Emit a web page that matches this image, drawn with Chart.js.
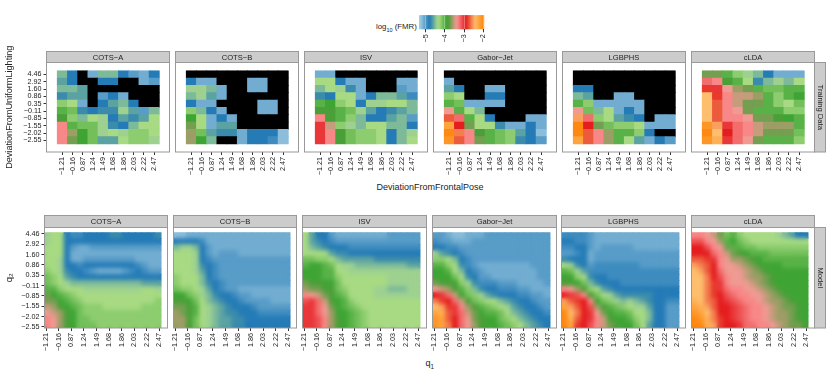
<!DOCTYPE html>
<html>
<head>
<meta charset="utf-8">
<script src="https://cdn.jsdelivr.net/npm/chart.js@4"></script>
<style>
body { margin: 0; background: #fff; font-family: "Liberation Sans", sans-serif; color: #222; }
canvas { position: absolute; }
.lbl { position: absolute; white-space: nowrap; }
sub { font-size: 70%; }
</style>
</head>
<body>
<div class="lbl" style="left:376px;top:22px;font-size:7.8px;">log<sub>10</sub> (FMR)</div>
<div class="lbl" style="left:376.5px;top:182px;font-size:9px;">DeviationFromFrontalPose</div>
<div class="lbl" style="left:425.5px;top:357.5px;font-size:9px;">q<sub>1</sub></div>
<script>
// all values are -10 * log10(FMR), so 43 means log10(FMR) = -4.3. N = no false matches (black)
var N = null;

var names = ["COTS\u2212A", "COTS\u2212B", "ISV", "Gabor\u2212Jet", "LGBPHS", "cLDA"];
var xLabels = ["\u22121.21", "\u22120.16", "0.87", "1.24", "1.49", "1.68", "1.86", "2.03", "2.22", "2.47"];
var yLabels = ["\u22122.55", "\u22122.02", "\u22121.55", "\u22120.85", "\u22120.11", "0.35", "0.86", "1.60", "2.92", "4.46"];
var legendTicks = [-5, -4, -3, -2];
var legendLabels = ["\u22125", "\u22124", "\u22123", "\u22122"];
var legendValues = [53,52,51,50,49,48,47,46,45,44,43,42,41,40,39,38,37,36,35,34,33,32,31,30,29,28,27,26,25,24,23,22,21,20];

// Training data, rows from 4.46 down to -2.55
var dataCotsA = [
[45,48,N,51,45,45,48,50,51,48],
[46,48,N,N,48,48,N,N,51,50],
[45,45,46,N,N,N,N,N,N,N],
[47,46,46,N,50,48,51,N,N,N],
[42,43,51,N,48,46,45,48,N,N],
[40,41,47,48,47,47,44,46,50,45],
[38,42,45,43,44,48,46,47,46,43],
[33,40,41,41,44,47,48,45,43,43],
[33,36,39,41,44,43,44,42,42,43],
[33,37,39,41,46,46,43,42,42,44]];
var dataCotsB = [
[N,N,N,N,N,N,N,N,N,N],
[48,51,51,N,N,N,51,51,N,N],
[44,44,45,51,N,N,51,51,N,N],
[45,44,46,51,N,N,N,N,N,N],
[48,51,51,N,N,N,N,51,51,N],
[42,45,48,51,N,N,N,51,51,N],
[39,43,51,48,51,N,N,N,N,N],
[37,43,51,46,46,N,N,N,N,N],
[36,41,46,47,47,51,48,48,48,52],
[36,39,45,N,N,51,48,48,49,52]];
var dataIsv = [
[51,51,N,N,N,N,N,N,N,N],
[43,43,48,51,51,N,N,N,51,51],
[45,43,44,47,51,N,N,N,50,51],
[47,48,43,43,51,48,45,45,46,49],
[40,39,42,43,48,44,44,43,43,45],
[38,38,40,41,44,46,48,47,46,45],
[33,38,40,42,45,48,48,46,45,50],
[30,35,42,44,45,43,43,45,45,48],
[30,33,38,41,42,42,43,48,45,44],
[30,33,38,41,42,42,43,48,45,43]];
var dataGabor = [
[N,N,N,N,N,N,N,N,N,N],
[51,N,N,N,N,N,N,N,N,N],
[46,48,N,N,51,51,N,N,N,N],
[42,43,N,N,48,48,N,N,N,N],
[40,41,51,51,51,51,N,N,N,N],
[34,40,43,45,N,N,N,N,N,N],
[27,32,40,43,48,N,N,N,51,51],
[22,29,37,43,43,47,51,51,48,51],
[20,26,33,38,40,41,42,46,48,52],
[21,27,33,37,40,41,42,47,48,50]];
var dataLgbphs = [
[N,N,N,N,N,N,N,N,N,N],
[N,N,N,N,N,N,N,N,N,N],
[48,48,N,N,N,N,N,N,N,N],
[45,46,N,N,51,51,N,N,N,N],
[40,42,51,51,51,51,51,N,N,N],
[34,41,45,43,51,48,51,N,N,N],
[25,32,42,43,46,47,48,N,51,51],
[20,29,37,41,42,42,43,51,51,51],
[20,27,33,36,40,40,42,48,N,N],
[22,27,33,36,40,43,46,51,48,50]];
var dataClda = [
[37,37,40,42,44,45,48,51,51,51],
[32,33,38,40,43,47,45,44,45,43],
[28,30,34,36,37,40,41,41,40,40],
[24,28,33,35,35,36,40,42,40,39],
[24,27,33,35,37,37,40,42,43,41],
[24,27,33,34,37,40,40,40,42,42],
[24,27,33,33,34,37,37,38,39,40],
[21,25,30,32,33,35,36,36,36,40],
[20,24,29,32,33,35,37,37,37,41],
[21,23,30,32,34,37,40,40,40,42]];

// Model surfaces read on an 18 x 16 grid, rows top down
var modelCotsA = [
[44,43,43,48,49,49,48,48,48,48,47,47,48,48,48,48,48,47],
[44,43,43,48,48,48,48,48,48,48,48,48,48,48,48,48,48,48],
[43,43,43,48,50,51,51,50,50,50,50,50,50,50,50,50,50,50],
[43,43,43,48,51,51,51,51,51,51,51,51,51,51,51,51,51,51],
[43,43,44,48,51,51,50,50,50,50,50,50,50,50,51,51,51,51],
[43,43,44,48,48,49,48,48,48,48,48,48,48,48,49,50,51,51],
[42,43,44,47,48,48,49,50,51,51,51,51,50,49,48,49,50,50],
[41,42,43,46,47,48,48,48,48,48,48,48,48,48,48,48,48,48],
[41,42,43,44,45,45,45,45,45,45,45,45,45,45,45,46,46,46],
[40,40,42,43,43,43,44,44,44,44,44,44,44,44,44,43,43,44],
[37,39,40,41,42,43,43,43,43,43,43,43,43,43,43,43,43,43],
[37,37,39,40,41,42,43,43,43,43,43,43,43,43,43,43,43,42],
[35,36,38,39,40,41,42,42,42,43,43,43,43,43,43,42,42,42],
[34,35,36,38,39,41,42,42,42,42,42,42,42,42,42,42,42,42],
[33,34,36,38,39,41,41,42,42,42,42,42,42,42,42,42,42,42],
[33,34,36,38,39,41,41,41,42,42,42,42,42,42,42,42,42,42]];
var modelCotsB = [
[52,52,51,51,51,51,51,51,51,51,51,51,51,51,51,51,51,51],
[48,48,48,48,49,51,51,51,51,51,51,51,51,51,51,51,51,51],
[45,44,44,45,48,50,51,51,51,51,51,51,51,51,51,51,51,51],
[43,43,43,44,48,50,51,50,50,50,51,51,51,51,51,51,51,51],
[43,43,43,44,48,49,50,50,50,50,50,50,50,50,50,50,50,50],
[43,43,43,44,47,48,49,50,50,50,50,50,50,50,50,50,50,50],
[43,43,43,44,46,48,49,50,50,50,50,50,50,50,50,50,50,50],
[42,43,43,43,45,48,49,50,50,50,50,50,50,50,50,50,50,50],
[42,43,43,43,45,47,48,49,50,50,50,50,50,50,50,50,50,50],
[41,42,42,43,44,46,48,49,50,50,51,51,51,51,51,51,51,51],
[39,39,41,42,44,45,47,48,48,49,50,50,51,51,51,51,51,51],
[38,38,39,41,43,45,46,47,48,48,49,50,50,50,50,51,51,51],
[37,37,38,40,43,44,45,46,47,48,48,48,49,50,50,50,50,50],
[36,37,38,40,43,44,45,46,47,47,48,48,48,49,49,49,49,49],
[36,36,38,41,43,44,45,46,46,47,47,48,48,48,48,48,48,48],
[36,36,38,41,43,44,45,46,46,47,47,48,48,48,48,48,48,48]];
var modelIsv = [
[43,46,48,48,50,51,51,51,51,51,51,51,51,50,50,50,50,50],
[43,46,47,48,49,50,50,50,50,50,50,50,50,50,50,50,50,50],
[43,45,46,47,48,48,48,49,49,49,49,49,49,49,49,49,49,49],
[43,43,43,43,46,47,47,48,48,48,48,48,48,48,48,48,48,48],
[41,41,42,42,43,45,46,46,46,46,46,47,47,47,47,47,47,47],
[40,39,39,40,41,43,44,44,45,45,45,45,45,45,45,45,46,46],
[39,39,39,40,40,43,43,44,44,44,44,44,44,44,44,44,44,44],
[39,39,39,40,40,42,43,43,43,43,43,43,43,44,44,44,44,44],
[37,38,38,39,39,41,43,43,43,43,43,43,43,44,44,44,44,44],
[36,37,37,38,38,41,42,43,43,43,43,44,44,45,45,45,44,44],
[33,34,35,37,38,40,41,43,43,43,43,44,44,44,44,44,44,44],
[31,30,32,35,38,39,40,42,43,43,43,43,43,43,43,43,43,43],
[30,30,32,34,37,39,40,41,42,43,43,43,43,43,43,43,43,43],
[30,30,32,34,36,39,39,40,41,42,43,43,43,43,43,43,43,43],
[30,30,31,33,36,38,39,40,41,42,43,43,43,43,43,43,43,43],
[30,30,31,33,36,38,39,40,41,42,43,43,43,43,43,43,43,43]];
var modelGabor = [
[50,50,51,52,52,51,51,51,50,50,50,50,50,50,50,50,50,50],
[49,50,50,51,51,51,50,50,50,50,50,50,50,50,50,50,50,50],
[48,48,49,49,50,50,50,50,50,50,50,50,50,50,50,50,50,50],
[44,46,47,48,49,50,50,50,50,50,50,50,50,50,50,50,50,50],
[42,42,43,45,48,49,50,50,50,50,50,50,50,50,50,50,50,50],
[40,40,42,43,47,49,50,51,51,51,51,51,51,51,51,50,50,50],
[39,39,40,43,45,48,49,50,51,51,51,51,51,51,51,51,50,50],
[39,39,39,41,43,47,48,50,50,51,51,51,51,51,51,51,50,50],
[37,38,38,39,42,44,47,49,49,49,50,50,50,51,51,51,51,50],
[34,35,36,38,40,42,45,47,48,48,49,49,49,50,50,51,51,51],
[29,30,32,35,39,41,42,44,46,47,48,48,48,49,49,50,50,51],
[26,28,29,32,35,38,41,42,43,43,45,46,47,48,48,49,50,50],
[24,25,28,30,33,36,38,40,41,42,43,44,46,47,48,48,49,50],
[22,23,27,30,32,35,37,39,40,40,41,43,45,46,47,48,48,49],
[21,22,27,29,32,34,37,38,39,39,41,42,43,45,46,47,48,48],
[21,22,26,29,32,34,36,38,39,39,40,41,42,43,45,46,47,48]];
var modelLgbphs = [
[49,49,49,49,50,51,51,51,51,51,51,51,51,51,51,51,51,51],
[48,48,49,49,50,51,51,51,51,51,51,51,51,51,51,51,51,51],
[49,49,48,48,50,51,50,50,50,50,50,51,51,51,51,51,51,51],
[50,50,49,48,51,50,50,50,50,50,50,50,50,50,50,50,50,50],
[47,48,48,48,51,50,50,50,50,50,50,50,50,50,50,50,50,50],
[43,44,47,48,50,49,49,49,49,49,49,49,50,50,50,50,50,50],
[40,41,44,46,49,49,49,49,49,49,49,49,49,49,49,49,49,49],
[39,39,42,43,47,48,48,49,49,49,49,49,49,49,49,49,49,49],
[38,38,39,41,45,47,48,48,48,49,49,49,49,49,49,49,49,49],
[33,34,36,38,42,43,46,47,48,48,48,48,48,48,48,48,48,48],
[29,30,31,33,38,41,43,44,46,47,47,47,47,47,48,48,48,48],
[25,27,28,29,33,39,41,42,44,45,44,45,46,47,48,48,49,49],
[22,25,27,29,31,36,38,40,41,42,43,44,44,46,48,48,50,50],
[20,24,26,29,30,34,37,39,40,40,41,43,43,45,48,48,50,50],
[20,23,27,29,30,33,35,38,39,39,40,42,43,45,48,48,50,50],
[20,22,28,29,31,33,35,37,38,39,39,41,43,46,48,48,50,50]];
var modelClda = [
[33,33,34,35,37,41,40,42,43,43,43,43,43,44,45,46,48,48],
[31,31,33,34,36,40,39,41,42,43,43,43,43,43,43,43,43,43],
[29,29,31,33,34,37,40,40,41,41,42,42,42,42,42,42,42,42],
[29,29,29,32,33,35,37,38,39,40,40,40,41,41,41,41,41,41],
[27,27,28,30,33,34,36,36,37,38,39,40,40,40,40,40,40,40],
[25,26,27,29,33,34,34,35,36,37,38,39,39,39,40,40,40,40],
[24,25,27,29,32,34,34,34,35,36,37,38,39,39,39,39,39,39],
[24,24,26,29,31,33,34,34,35,36,36,37,38,39,39,39,39,39],
[24,24,26,28,30,33,34,34,34,35,36,37,38,39,39,39,39,39],
[24,24,26,28,30,32,33,33,34,34,35,36,37,38,39,39,39,39],
[24,24,26,28,29,31,32,33,33,34,34,35,36,37,38,39,39,39],
[23,24,26,27,29,30,31,32,33,33,34,35,36,36,37,38,39,39],
[22,23,25,27,29,29,30,31,32,33,33,34,35,36,37,37,38,39],
[21,22,24,26,29,29,30,31,32,33,33,34,35,36,36,37,38,39],
[20,21,23,26,28,29,30,31,32,33,33,34,35,36,36,37,38,39],
[20,20,23,25,28,29,29,30,32,32,33,33,34,35,36,37,37,38]];

var trainingData = [dataCotsA, dataCotsB, dataIsv, dataGabor, dataLgbphs, dataClda];
var modelData = [modelCotsA, modelCotsB, modelIsv, modelGabor, modelLgbphs, modelClda];

// Paired palette, stop position in the same units as the data
var stops = [53, 47.8, 43.4, 38.6, 33.7, 28.9, 24.1, 19.3];
var palette = [[166,206,227],[31,120,180],[178,223,138],[51,160,44],[251,154,153],[227,26,28],[253,191,111],[255,127,0]];

function colorFor(v) {
    if (v === null) return "#000";
    for (var i = 0; i < stops.length - 1; i++) {
        if (v <= stops[i] && v >= stops[i + 1]) {
            var t = (stops[i] - v) / (stops[i] - stops[i + 1]);
            var a = palette[i], b = palette[i + 1];
            return "rgb(" + Math.round(a[0] + (b[0] - a[0]) * t) + "," + Math.round(a[1] + (b[1] - a[1]) * t) + "," + Math.round(a[2] + (b[2] - a[2]) * t) + ")";
        }
    }
    return v > stops[0] ? "rgb(166,206,227)" : "rgb(255,127,0)";
}

var tickFont = { family: "Liberation Sans", size: 7.2 };

// draws the grey strips and the panel frame
var framePlugin = {
    id: "frame",
    afterDraw: function (chart, args, o) {
        var c = chart.ctx, a = chart.chartArea;
        if (!o.title) return;
        c.save();
        c.lineWidth = 1;
        c.strokeStyle = "#999";
        c.fillStyle = "#ccc";
        c.fillRect(a.left, o.stripTop, a.right - a.left, a.top - o.stripTop);
        c.strokeRect(a.left, o.stripTop, a.right - a.left, a.top - o.stripTop);
        c.strokeRect(a.left, a.top, a.right - a.left, a.bottom - a.top);
        c.fillStyle = "#222";
        c.font = "7.6px 'Liberation Sans'";
        c.textAlign = "center";
        c.textBaseline = "middle";
        c.fillText(o.title, (a.left + a.right) / 2, (o.stripTop + a.top) / 2 + 0.5);
        if (o.side) {
            c.fillStyle = "#ccc";
            c.fillRect(a.right, a.top, 11, a.bottom - a.top);
            c.strokeRect(a.right, a.top, 11, a.bottom - a.top);
            c.fillStyle = "#222";
            c.translate(a.right + 5.5, (a.top + a.bottom) / 2);
            c.rotate(Math.PI / 2);
            c.fillText(o.side, 0, 0);
        }
        c.restore();
    }
};

// softens the cells by copying the canvas onto itself through a blur
var softenPlugin = {
    id: "soften",
    afterDatasetsDraw: function (chart, args, o) {
        if (!o.px) return;
        var c = chart.ctx, x = chart.scales.x, y = chart.scales.y;
        var x0 = x.getPixelForValue(o.x0), x1 = x.getPixelForValue(o.x1);
        var y0 = y.getPixelForValue(o.y1), y1 = y.getPixelForValue(0);
        c.save();
        c.beginPath();
        c.rect(x0, y0, x1 - x0, y1 - y0);
        c.clip();
        c.filter = "blur(" + o.px + "px)";
        c.drawImage(c.canvas, 0, 0, chart.width, chart.height);
        c.restore();
    }
};
Chart.register(framePlugin, softenPlugin);

function addCanvas(left, top, w, h) {
    var el = document.createElement("canvas");
    el.style.left = left + "px";
    el.style.top = top + "px";
    el.width = w;
    el.height = h;
    el.style.width = w + "px";
    el.style.height = h + "px";
    document.body.appendChild(el);
    return el;
}

function rowsToDatasets(rows) {
    var sets = [];
    for (var r = rows.length - 1; r >= 0; r--) {
        var pts = [], cols = [];
        for (var i = 0; i < rows[r].length; i++) {
            pts.push({ x: i, y: 1 });
            cols.push(colorFor(rows[r][i]));
        }
        sets.push({ data: pts, backgroundColor: cols, barPercentage: 1, categoryPercentage: 1, borderWidth: 0 });
    }
    return sets;
}

function panel(p) {
    var first = p.col === 0, last = p.col === 5;
    var cl = first ? 0 : Math.floor(p.l) - 8;
    var cr = last ? 830 : Math.ceil(p.r) + 8;
    var ct = p.stripTop - 12.5;
    var xH = p.xHeight;
    var h = Math.ceil(p.b - ct + xH);
    var rows = p.rows;
    new Chart(addCanvas(cl, ct, cr - cl, h), {
        type: "bar",
        data: { datasets: rowsToDatasets(rows) },
        options: {
            responsive: false,
            animation: false,
            layout: { padding: { left: first ? 0 : p.l - cl, right: cr - p.r, top: p.stripBottom - ct, bottom: h - xH - (p.b - ct) } },
            plugins: {
                legend: { display: false },
                tooltip: { enabled: false },
                frame: { title: names[p.col], stripTop: p.stripTop - ct, side: last ? p.side : "" },
                soften: { px: p.blur, x0: -0.5, x1: rows[0].length - 0.5, y1: rows.length }
            },
            scales: {
                x: {
                    type: "linear",
                    stacked: true,
                    offset: false,
                    min: p.xMin,
                    max: p.xMax,
                    afterBuildTicks: function (s) { s.ticks = p.xTicks.map(function (v) { return { value: v }; }); },
                    afterFit: function (s) { s.height = xH; },
                    grid: { offset: false, drawOnChartArea: false, tickLength: 3, color: "#333", tickWidth: 1 },
                    border: { display: false },
                    ticks: {
                        autoSkip: false, minRotation: 90, maxRotation: 90, padding: 2, font: tickFont, color: "#222",
                        callback: function (v, i) { return xLabels[i]; }
                    }
                },
                y: {
                    type: "linear",
                    stacked: true,
                    display: first,
                    min: p.yMin,
                    max: p.yMax,
                    afterBuildTicks: function (s) { s.ticks = p.yTicks.map(function (v) { return { value: v }; }); },
                    afterFit: function (s) { s.width = first ? p.l : 0; },
                    grid: { drawOnChartArea: false, tickLength: 3, color: "#333", tickWidth: 1 },
                    border: { display: false },
                    title: { display: true, text: p.yTitle, color: "#222", font: { family: "Liberation Sans", size: p.yTitleSize }, padding: { top: 4, bottom: 0 } },
                    ticks: {
                        autoSkip: false, padding: 2, font: tickFont, color: "#222",
                        callback: function (v, i) { return yLabels[i]; }
                    }
                }
            }
        }
    });
}

var topBoxes = [[46.5, 169.5], [175.5, 298.5], [304.5, 427.5], [433.5, 556.5], [562.5, 685.5], [691.5, 814.5]];
var bottomBoxes = [[44.5, 167.5], [173.5, 296.5], [302.5, 426.5], [432.5, 556.5], [561.5, 685.5], [691.5, 814.5]];
var topTicks = [0.5, 1.5, 2.5, 3.5, 4.5, 5.5, 6.5, 7.5, 8.5, 9.5];
var topXTicks = [0, 1, 2, 3, 4, 5, 6, 7, 8, 9];
var modelXTicks = topXTicks.map(function (k) { return -0.24 + k * 1.942; });
var modelYTicks = topXTicks.map(function (k) { return 0.168 + k * 1.735; });

for (var i = 0; i < 6; i++) {
    panel({
        col: i, rows: trainingData[i], l: topBoxes[i][0], r: topBoxes[i][1],
        stripTop: 51.5, stripBottom: 62.5, b: 152, xHeight: 30, side: "Training Data", blur: 0.7,
        xMin: -1.55, xMax: 10.5, yMin: -1.09, yMax: 11.12, xTicks: topXTicks, yTicks: topTicks,
        yTitle: "DeviationFromUniformLighting", yTitleSize: 9.15
    });
    panel({
        col: i, rows: modelData[i], l: bottomBoxes[i][0], r: bottomBoxes[i][1],
        stripTop: 215.5, stripBottom: 227.5, b: 328, xHeight: 30, side: "Model", blur: 2.2,
        xMin: -0.5, xMax: 18.48, yMin: 0, yMax: 16.87, xTicks: modelXTicks, yTicks: modelYTicks,
        yTitle: "q\u2082", yTitleSize: 9.6
    });
}

// colour key
new Chart(addCanvas(410, 8, 84, 40), {
    type: "bar",
    data: {
        datasets: [{
            data: legendValues.map(function (v) { return { x: -v / 10, y: 1 }; }),
            backgroundColor: legendValues.map(colorFor),
            barPercentage: 1, categoryPercentage: 1, borderWidth: 0
        }]
    },
    options: {
        responsive: false,
        animation: false,
        layout: { padding: { left: 9, right: 8.3, top: 7.3, bottom: 0 } },
        plugins: { legend: { display: false }, tooltip: { enabled: false }, frame: {}, soften: { px: 1, x0: -5.35, x1: -1.95, y1: 1 } },
        scales: {
            x: {
                type: "linear",
                stacked: true,
                offset: false,
                min: -5.35,
                max: -1.95,
                afterBuildTicks: function (s) { s.ticks = legendTicks.map(function (v) { return { value: v }; }); },
                afterFit: function (s) { s.height = 18.7; },
                grid: { offset: false, color: "rgba(255,255,255,0.3)", tickColor: "#333", tickLength: 3, z: 1 },
                border: { display: false },
                ticks: {
                    autoSkip: false, minRotation: 90, maxRotation: 90, padding: 2, font: tickFont, color: "#222",
                    callback: function (v, i) { return legendLabels[i]; }
                }
            },
            y: { display: false, stacked: true, min: 0, max: 1 }
        }
    }
});
</script>
</body>
</html>
